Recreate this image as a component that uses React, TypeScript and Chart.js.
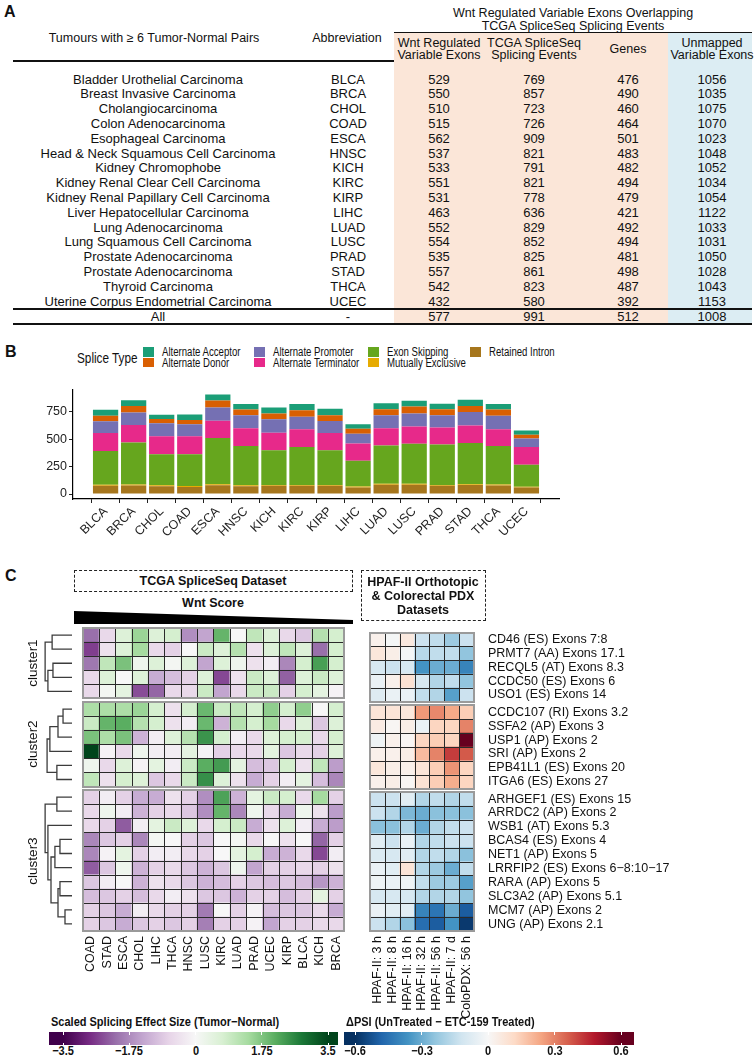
import React, { useEffect, useRef } from "react";
import { Chart, registerables } from "chart.js";
Chart.register(...registerables);

const SANS = "'Liberation Sans', Arial, sans-serif";

// ---------------- Panel A data ----------------
const tumourNames = [
  "Bladder Urothelial Carcinoma", "Breast Invasive Carcinoma", "Cholangiocarcinoma", "Colon Adenocarcinoma",
  "Esophageal Carcinoma", "Head & Neck Squamous Cell Carcinoma", "Kidney Chromophobe", "Kidney Renal Clear Cell Carcinoma",
  "Kidney Renal Papillary Cell Carcinoma", "Liver Hepatocellular Carcinoma", "Lung Adenocarcinoma", "Lung Squamous Cell Carcinoma",
  "Prostate Adenocarcinoma", "Prostate Adenocarcinoma", "Thyroid Carcinoma", "Uterine Corpus Endometrial Carcinoma",
];
const abbreviations = ["BLCA", "BRCA", "CHOL", "COAD", "ESCA", "HNSC", "KICH", "KIRC", "KIRP", "LIHC", "LUAD", "LUSC", "PRAD", "STAD", "THCA", "UCEC"];
const wntExons = [529, 550, 510, 515, 562, 537, 533, 551, 531, 463, 552, 554, 535, 557, 542, 432];
const tcgaEvents = [769, 857, 723, 726, 909, 821, 791, 821, 778, 636, 829, 852, 825, 861, 823, 580];
const geneCounts = [476, 490, 460, 464, 501, 483, 482, 494, 479, 421, 492, 494, 481, 498, 487, 392];
const unmappedExons = [1056, 1035, 1075, 1070, 1023, 1048, 1052, 1034, 1054, 1122, 1033, 1031, 1050, 1028, 1043, 1153];
const allRow = ["All", "-", "577", "991", "512", "1008"];

// ---------------- Panel B data ----------------
const spliceTypes = ["Alternate Acceptor", "Alternate Donor", "Alternate Promoter", "Alternate Terminator", "Exon Skipping", "Mutually Exclusive", "Retained Intron"];
const spliceColors = ["#1B9E77", "#D95F02", "#7570B3", "#E7298A", "#66A61E", "#E6AB02", "#A6761D"];
const altAcceptor = [54, 53, 38, 50, 55, 50, 56, 56, 58, 41, 55, 52, 51, 57, 52, 38];
const altDonor = [50, 60, 39, 39, 65, 51, 53, 60, 53, 44, 54, 65, 54, 54, 57, 36];
const altPromoter = [107, 113, 119, 110, 119, 119, 122, 113, 110, 90, 119, 119, 113, 125, 122, 77];
const altTerminator = [165, 161, 164, 164, 158, 163, 161, 163, 158, 157, 158, 158, 155, 158, 154, 161];
const exonSkipping = [308, 382, 283, 290, 422, 358, 316, 346, 316, 236, 350, 365, 369, 377, 352, 202];
const mutuallyExclusive = [10, 10, 8, 8, 10, 10, 8, 8, 8, 8, 8, 8, 8, 8, 8, 6];
const retainedIntron = [75, 78, 72, 65, 80, 70, 75, 75, 75, 60, 85, 85, 75, 82, 78, 60];
const spliceSeries = [altAcceptor, altDonor, altPromoter, altTerminator, exonSkipping, mutuallyExclusive, retainedIntron];
const barYTicks = [0, 250, 500, 750];

// ---------------- Panel C data ----------------
const tcgaCols = ["COAD", "STAD", "ESCA", "CHOL", "LIHC", "THCA", "HNSC", "LUSC", "KIRC", "LUAD", "PRAD", "UCEC", "KIRP", "BLCA", "KICH", "BRCA"];
const pdxCols = ["HPAF-II: 3 h", "HPAF-II: 8 h", "HPAF-II: 16 h", "HPAF-II: 32 h", "HPAF-II: 56 h", "HPAF-II: 7 d", "ColoPDX: 56 h"];
const exonLabels = [
  "CD46 (ES) Exons 7:8", "PRMT7 (AA) Exons 17.1", "RECQL5 (AT) Exons 8.3", "CCDC50 (ES) Exons 6", "USO1 (ES) Exons 14",
  "CCDC107 (RI) Exons 3.2", "SSFA2 (AP) Exons 3", "USP1 (AP) Exons 2", "SRI (AP) Exons 2", "EPB41L1 (ES) Exons 20", "ITGA6 (ES) Exons 27",
  "ARHGEF1 (ES) Exons 15", "ARRDC2 (AP) Exons 2", "WSB1 (AT) Exons 5.3", "BCAS4 (ES) Exons 4", "NET1 (AP) Exons 5",
  "LRRFIP2 (ES) Exons 6\u22128:10\u221217", "RARA (AP) Exons 5", "SLC3A2 (AP) Exons 5.1", "MCM7 (AP) Exons 2", "UNG (AP) Exons 2.1",
];
const exonCluster = [0, 0, 0, 0, 0, 1, 1, 1, 1, 1, 1, 2, 2, 2, 2, 2, 2, 2, 2, 2, 2];
const clusterNames = ["cluster1", "cluster2", "cluster3"];
const tcgaEffect = [
  [-2.1, -0.6, 0.6, 1.5, 0.6, 0.75, -1.7, -1.4, 2.0, 0, 1.05, 0.6, -0.6, -0.9, 1.2, 0.75],
  [-2.6, -0.45, 0.6, 1.4, -0.6, -0.75, 0, 0.9, 0.6, 1.2, -0.45, 0.6, 1.05, 0.6, -2.1, 0.75],
  [-2.0, 1.05, 1.8, 0.2, 0.6, 0.1, 0.6, -1.4, 0.6, 0.2, -0.45, -0.2, -1.8, 0.75, 2.3, 0.75],
  [-0.6, 0.6, 0, 0.6, -1.3, -1.05, -0.75, 0.6, -2.5, -0.45, 0.9, 0.6, -2.25, 0.6, 0.9, 0.6],
  [-0.6, 0.1, 0.45, -2.45, -2.2, -0.6, -0.6, 0.9, -1.4, -0.6, 0.9, 0.9, -0.75, 0.75, 0.45, -0.1],
  [1.3, 1.3, 1.3, 1.5, 0.75, -0.45, 0.75, 1.95, 0.9, 1.05, 0.75, 1.6, 0.75, 1.6, 0, 0.75],
  [0.9, 2.0, 2.1, 1.2, 0.75, -0.45, -0.2, 1.95, -1.2, 1.2, 0.75, 1.4, -0.6, 0.6, -0.9, 0.6],
  [1.8, 1.3, 1.8, -1.2, -0.2, 0.6, 1.2, 2.45, 0.75, -0.2, -0.6, 0.6, 0.75, 0.75, -0.6, 0.75],
  [3.5, -0.1, -0.6, 0.2, -0.2, -0.2, 0.45, -0.1, -0.75, -0.6, -0.6, 0.45, -0.9, -0.6, -0.75, 0.6],
  [0.2, -0.6, 0.6, -0.1, 0.45, -0.2, 0.9, 2.1, 2.35, 0.45, -1.05, -0.9, 0.75, -0.45, 1.05, -1.5],
  [1.05, -0.45, 0.75, 0.6, -0.9, -0.6, 0.9, 2.5, 0.6, -0.45, -1.3, -0.75, -0.2, 0.45, -1.05, -1.8],
  [-0.75, -0.2, -0.75, -1.3, -1.3, -0.45, -0.75, -1.7, 2.25, -1.2, 0.45, 0.9, 0.75, -0.6, 1.4, -0.75],
  [-0.6, 0.2, -0.2, -1.2, -0.75, -0.6, -0.9, -1.7, 2.0, -1.8, 0.2, -0.6, -1.3, 0.2, -0.45, -1.5],
  [-0.6, -0.75, -2.3, -0.2, 0.45, 0.9, 0.6, -0.6, 0.75, 0.9, -1.3, -0.45, 0.6, -0.2, -1.3, -1.5],
  [-1.8, -0.9, -0.75, -1.8, 0.1, 0, -0.75, -0.9, 0, 0.1, -0.6, 0, -0.45, 0, -2.2, -0.75],
  [-1.8, -0.1, 0.45, -0.75, -0.2, -0.2, -0.6, -0.75, 0, 0.45, 0.75, -1.3, -1.2, -0.6, -2.5, -0.2],
  [-2.3, -0.9, 0.2, -1.2, -0.75, -0.6, -0.9, -1.2, -0.9, 0.2, -1.4, -0.75, -0.75, -0.6, -0.75, -0.45],
  [-0.9, -0.2, 0, -1.2, -0.45, -0.6, -0.9, -1.2, -1.05, -0.75, -0.9, -1.05, -0.9, -1.05, -1.6, -1.2],
  [-1.05, -0.9, -0.75, -1.05, -0.6, -0.2, -0.45, -0.9, -0.9, -1.2, -0.75, -0.75, -1.05, -0.75, 0.45, -0.75],
  [-0.75, -0.9, -1.3, -0.2, -0.6, -0.75, -0.75, -1.95, 0, -0.75, -0.1, -1.05, -0.9, -0.9, -0.6, -1.3],
  [-0.75, -0.9, -1.3, -0.9, -0.75, -0.9, -0.75, -1.9, -0.75, -0.75, -0.1, -1.4, -0.75, -0.75, -0.6, -0.6],
];
const pdxDeltaPsi = [
  [0.03, -0.01, 0.06, -0.13, -0.15, -0.22, -0.13],
  [0.07, 0.04, -0.01, -0.17, -0.15, -0.15, -0.24],
  [-0.1, -0.13, -0.1, -0.36, -0.3, -0.3, -0.4],
  [-0.04, 0.03, 0.09, -0.1, -0.18, -0.15, -0.24],
  [-0.08, -0.04, -0.04, -0.15, -0.18, -0.33, -0.13],
  [0.08, 0.08, 0.07, 0.26, 0.29, 0.23, 0.15],
  [0.05, 0.01, 0.04, -0.04, 0.13, 0.13, 0.3],
  [-0.03, 0.03, 0.01, 0.13, 0.15, 0.13, 0.6],
  [0.03, 0.03, 0.04, 0.19, 0.3, 0.42, 0.37],
  [0.07, 0.04, 0.03, 0.08, 0.15, 0.27, 0.13],
  [0.03, 0.04, 0.01, 0.09, 0.15, 0.22, 0.13],
  [-0.13, -0.13, -0.07, -0.18, -0.15, -0.18, -0.15],
  [-0.13, -0.18, -0.27, -0.3, -0.25, -0.25, -0.25],
  [-0.25, -0.25, -0.18, -0.3, -0.18, -0.15, -0.13],
  [-0.07, -0.13, -0.04, -0.18, -0.15, -0.13, -0.13],
  [-0.09, -0.1, -0.07, -0.18, -0.15, -0.18, -0.25],
  [-0.04, -0.07, 0.08, -0.18, -0.22, -0.3, -0.15],
  [-0.03, -0.04, -0.03, -0.15, -0.22, -0.22, -0.33],
  [-0.1, -0.1, -0.1, -0.18, -0.18, -0.18, -0.24],
  [-0.04, -0.07, -0.07, -0.4, -0.44, -0.3, -0.5],
  [-0.13, -0.18, -0.25, -0.46, -0.5, -0.36, -0.58],
];
// dendrogram merges: [childA, childB, height]; child >= 100 refers to merge (child - 100)
const dendroMerges: [number, number, number][] = [
  [0, 1, 0.71], [2, 3, 0.68], [101, 4, 0.86], [100, 102, 0.96],
  [5, 6, 0.32], [104, 7, 0.5], [105, 8, 0.79], [9, 10, 0.54], [106, 107, 0.89],
  [11, 12, 0.54], [14, 15, 0.43], [110, 16, 0.61], [17, 18, 0.43], [19, 20, 0.25],
  [112, 113, 0.5], [111, 114, 0.75], [13, 115, 0.86], [109, 116, 0.96],
];
const effectTicks = [-3.5, -1.75, 0, 1.75, 3.5];
const psiTicks = [-0.6, -0.3, 0, 0.3, 0.6];
const PRGN = ["#40004b", "#762a83", "#9970ab", "#c2a5cf", "#e7d4e8", "#f7f7f7", "#d9f0d3", "#a6dba0", "#5aae61", "#1b7837", "#00441b"];
const RDBU = ["#053061", "#2166ac", "#4393c3", "#92c5de", "#d1e5f0", "#f7f7f7", "#fddbc7", "#f4a582", "#d6604d", "#b2182b", "#67001f"];

// ---------------- helpers ----------------
const CLUSTER_GAP = 0.25;
const rowPos = (i: number) => i + exonCluster[i] * CLUSTER_GAP;
const ROW_MAX = exonLabels.length + (clusterNames.length - 1) * CLUSTER_GAP;

function hexRgb(h: string) {
  return [parseInt(h.slice(1, 3), 16), parseInt(h.slice(3, 5), 16), parseInt(h.slice(5, 7), 16)];
}
function rampColor(pal: string[], v: number, lim: number) {
  const t = Math.max(0, Math.min(1, (v + lim) / (2 * lim))) * (pal.length - 1);
  const i = Math.min(pal.length - 2, Math.floor(t));
  const f = t - i;
  const a = hexRgb(pal[i]), b = hexRgb(pal[i + 1]);
  const c = a.map((x, k) => Math.round(x + (b[k] - x) * f));
  return `rgb(${c[0]},${c[1]},${c[2]})`;
}

function ChartBox({ left, top, width, height, makeConfig }: any) {
  const ref = useRef<HTMLCanvasElement>(null);
  useEffect(() => {
    const chart = new Chart(ref.current as HTMLCanvasElement, makeConfig());
    return () => chart.destroy();
  }, []);
  return (
    <div style={{ position: "absolute", left, top, width, height }}>
      <canvas ref={ref} width={width} height={height} style={{ width, height, display: "block" }} />
    </div>
  );
}

function T({ x, y, children, size = 13, bold = false, align = "center", rotate = 0, sx = 1, color = "#111" }: any) {
  const tx = align === "center" ? "-50%" : align === "right" ? "-100%" : "0";
  const origin = align === "left" ? "left center" : align === "right" ? "right center" : "center center";
  return (
    <div
      style={{
        position: "absolute", left: x, top: y, transform: `translate(${tx},-50%) rotate(${rotate}deg) scaleX(${sx})`,
        transformOrigin: origin,
        fontSize: size, fontWeight: bold ? 700 : 400, fontFamily: SANS, whiteSpace: "nowrap", lineHeight: 1, color,
      }}
    >
      {children}
    </div>
  );
}

// ---------------- Chart configs ----------------
const stackOrder = [6, 5, 4, 3, 2, 1, 0];
function barConfig(): any {
  return {
    type: "bar",
    data: {
      datasets: stackOrder.map((k) => ({
        label: spliceTypes[k],
        data: spliceSeries[k].map((v, i) => ({ x: i, y: v })),
        backgroundColor: spliceColors[k],
        borderWidth: 0,
        barPercentage: 0.9,
        categoryPercentage: 1,
      })),
    },
    options: {
      animation: false,
      responsive: false,
      layout: { padding: { top: 7, right: 16, left: 0, bottom: 0 } },
      plugins: { legend: { display: false }, tooltip: { enabled: false } },
      scales: {
        x: {
          type: "linear", min: -0.62, max: 15.62, stacked: true,
          afterBuildTicks: (s: any) => { s.ticks = abbreviations.map((_, i) => ({ value: i })); },
          afterFit: (s: any) => { s.height = 46; },
          ticks: {
            autoSkip: false, maxRotation: 45, minRotation: 45, padding: 1,
            callback: (_v: any, i: number) => abbreviations[i],
            font: { family: SANS, size: 12.5 }, color: "#222",
          },
          grid: { display: true, drawOnChartArea: false, tickLength: 4, color: "#222" },
          border: { display: true, color: "#000", width: 1.2 },
        },
        y: {
          type: "linear", min: -45.45, max: 954.45, stacked: true,
          afterBuildTicks: (s: any) => { s.ticks = barYTicks.map((v) => ({ value: v })); },
          afterFit: (s: any) => { s.width = 73; },
          ticks: { callback: (v: any) => String(v), font: { family: SANS, size: 12.5 }, color: "#222", padding: 2 },
          grid: { display: true, drawOnChartArea: false, tickLength: 4, color: "#222" },
          border: { display: true, color: "#000", width: 1.2 },
        },
      },
    },
  };
}

function gridPlugin(ncol: number) {
  return {
    id: "cellgrid",
    afterDatasetsDraw(chart: any) {
      const { ctx } = chart;
      const { x, y } = chart.scales;
      ctx.save();
      const left = Math.round(x.getPixelForValue(-0.5));
      const right = Math.round(x.getPixelForValue(ncol - 0.5));
      for (let c = 0; c < clusterNames.length; c++) {
        const rows = exonCluster.map((cl, i) => (cl === c ? i : -1)).filter((i) => i >= 0);
        const top = Math.round(y.getPixelForValue(rowPos(rows[0])));
        const bottom = Math.round(y.getPixelForValue(rowPos(rows[rows.length - 1]) + 1));
        ctx.strokeStyle = "#2a2a2a";
        ctx.lineWidth = 1;
        ctx.beginPath();
        for (let k = 1; k < rows.length; k++) {
          const yy = Math.round(y.getPixelForValue(rowPos(rows[k]))) + 0.5;
          ctx.moveTo(left, yy); ctx.lineTo(right, yy);
        }
        for (let k = 1; k < ncol; k++) {
          const xx = Math.round(x.getPixelForValue(k - 0.5)) + 0.5;
          ctx.moveTo(xx, top); ctx.lineTo(xx, bottom);
        }
        ctx.stroke();
        ctx.strokeStyle = "#9a9a9a";
        ctx.lineWidth = 2;
        ctx.strokeRect(left, top, right - left, bottom - top);
      }
      ctx.restore();
    },
  };
}

const dendroPlugin = {
  id: "dendro",
  afterDraw(chart: any) {
    const { ctx } = chart;
    const y = chart.scales.y;
    const leafX = chart.chartArea.left - 2;
    const unit = 28;
    const pos: { x: number; y: number }[] = [];
    const node = (n: number) => (n >= 100 ? pos[n - 100] : { x: leafX, y: y.getPixelForValue(rowPos(n) + 0.5) });
    ctx.save();
    ctx.strokeStyle = "#3c3c3c";
    ctx.lineWidth = 1.3;
    dendroMerges.forEach(([a, b, h], k) => {
      const A = node(a), B = node(b);
      const xx = leafX - h * unit;
      ctx.beginPath();
      ctx.moveTo(A.x, A.y); ctx.lineTo(xx, A.y); ctx.lineTo(xx, B.y); ctx.lineTo(B.x, B.y);
      ctx.stroke();
      pos[k] = { x: xx, y: (A.y + B.y) / 2 };
    });
    ctx.restore();
  },
};

function heatConfig(values: number[][], cols: string[], pal: string[], lim: number, side: "left" | "right", xAxisH: number): any {
  const cells: any[] = [];
  const colors: string[] = [];
  values.forEach((row, r) => row.forEach((v, c) => {
    cells.push({ x: c, y: [rowPos(r), rowPos(r) + 1] });
    colors.push(rampColor(pal, v, lim));
  }));
  const isRight = side === "right";
  const yScale: any = {
    type: "linear", reverse: true, min: 0, max: ROW_MAX,
    display: isRight,
    position: "right",
    grid: { display: false, drawTicks: false },
    border: { display: false },
  };
  if (isRight) {
    yScale.afterBuildTicks = (s: any) => { s.ticks = exonLabels.map((_, i) => ({ value: rowPos(i) + 0.5 })); };
    yScale.afterFit = (s: any) => { s.width = 273; };
    yScale.ticks = {
      autoSkip: false, padding: 5,
      callback: (_v: any, i: number) => exonLabels[i],
      font: { family: SANS, size: 12.5 }, color: "#111",
    };
  }
  return {
    type: "bar",
    data: { datasets: [{ data: cells, backgroundColor: colors, borderWidth: 0, barPercentage: 1, categoryPercentage: 1 }] },
    options: {
      animation: false,
      responsive: false,
      layout: { padding: isRight ? { top: 8, left: 5, right: 0, bottom: 0 } : { top: 8, left: 74, right: 7, bottom: 0 } },
      plugins: { legend: { display: false }, tooltip: { enabled: false } },
      scales: {
        x: {
          type: "linear", min: -0.5, max: cols.length - 0.5,
          afterBuildTicks: (s: any) => { s.ticks = cols.map((_, i) => ({ value: i })); },
          afterFit: (s: any) => { s.height = xAxisH; },
          ticks: {
            autoSkip: false, maxRotation: 90, minRotation: 90, padding: 5,
            callback: (_v: any, i: number) => cols[i],
            font: { family: SANS, size: 12.5 }, color: "#111",
          },
          grid: { display: false, drawTicks: false },
          border: { display: false },
        },
        y: yScale,
      },
    },
    plugins: isRight ? [gridPlugin(cols.length)] : [gridPlugin(cols.length), dendroPlugin],
  };
}

function gradientCss(pal: string[], lim: number, barLeft: number, barWidth: number, tickLeft: number, tickRight: number) {
  const stops = pal.map((c, k) => {
    const v = -lim + (2 * lim * k) / (pal.length - 1);
    const px = tickLeft + ((v + lim) / (2 * lim)) * (tickRight - tickLeft) - barLeft;
    return `${c} ${((px / barWidth) * 100).toFixed(2)}%`;
  });
  return `linear-gradient(to right, ${stops.join(", ")})`;
}

function ColorBar({ left, width, tickLeft, tickRight, pal, ticks, lim, title }: any) {
  const top = 1032, h = 13;
  const tx = (v: number) => tickLeft + ((v + lim) / (2 * lim)) * (tickRight - tickLeft);
  return (
    <>
      <T x={left + 2} y={1022} align="left" bold size={12.5} sx={0.88}>{title}</T>
      <div style={{ position: "absolute", left, top, width, height: h, background: gradientCss(pal, lim, left, width, tickLeft, tickRight) }} />
      {ticks.map((v: number) => (
        <React.Fragment key={v}>
          <div style={{ position: "absolute", left: tx(v) - 0.5, top, width: 1, height: 2.5, background: "#fff" }} />
          <div style={{ position: "absolute", left: tx(v) - 0.5, top: top + h - 2.5, width: 1, height: 2.5, background: "#fff" }} />
          <T x={tx(v)} y={1051} bold size={12.5} sx={0.88}>{v < 0 ? "\u2212" + Math.abs(v) : String(v)}</T>
        </React.Fragment>
      ))}
    </>
  );
}

export default function App() {
  const rowY = (i: number) => 78.5 + i * 14.8;
  const colX = [158, 348, 439, 534, 628, 712];
  const legendCols = [
    { box: 143, items: [0, 1] },
    { box: 254, items: [2, 3] },
    { box: 368, items: [4, 5] },
    { box: 470, items: [6] },
  ];
  const clusterRows = clusterNames.map((_, c) => exonCluster.map((cl, i) => (cl === c ? i : -1)).filter((i) => i >= 0));
  const rowPx = (v: number) => 628 + (v / ROW_MAX) * 303;
  return (
    <div style={{ position: "absolute", left: 0, top: 0, width: 756, height: 1057, background: "#fff", overflow: "hidden", color: "#111", fontFamily: SANS }}>
      {/* ---------- Panel A ---------- */}
      <div style={{ position: "absolute", left: 394, top: 33, width: 274, height: 290, background: "#FBE6D8" }} />
      <div style={{ position: "absolute", left: 668, top: 33, width: 84, height: 290, background: "#DCEDF3" }} />
      <div style={{ position: "absolute", left: 394, top: 32, width: 358, height: 1, background: "#111" }} />
      <div style={{ position: "absolute", left: 13, top: 60, width: 381, height: 2, background: "#111" }} />
      <div style={{ position: "absolute", left: 13, top: 308, width: 739, height: 1.5, background: "#111" }} />
      <div style={{ position: "absolute", left: 13, top: 322.5, width: 739, height: 2.5, background: "#111" }} />
      <T x={4} y={12} align="left" bold size={16}>A</T>
      <T x={154} y={38} size={12.5}>Tumours with ≥ 6 Tumor-Normal Pairs</T>
      <T x={347} y={38} size={12.5}>Abbreviation</T>
      <T x={573} y={13} size={12.5}>Wnt Regulated Variable Exons Overlapping</T>
      <T x={573} y={25.5} size={12.5}>TCGA SpliceSeq Splicing Events</T>
      <T x={colX[2]} y={43} size={12.5}>Wnt Regulated</T>
      <T x={colX[2]} y={55} size={12.5}>Variable Exons</T>
      <T x={colX[3]} y={43} size={12.5}>TCGA SpliceSeq</T>
      <T x={colX[3]} y={55} size={12.5}>Splicing Events</T>
      <T x={colX[4]} y={49} size={12.5}>Genes</T>
      <T x={colX[5]} y={43} size={12.5}>Unmapped</T>
      <T x={colX[5]} y={55} size={12.5}>Variable Exons</T>
      {tumourNames.map((n, i) => (
        <React.Fragment key={i}>
          <T x={colX[0]} y={rowY(i)}>{n}</T>
          <T x={colX[1]} y={rowY(i)}>{abbreviations[i]}</T>
          <T x={colX[2]} y={rowY(i)}>{wntExons[i]}</T>
          <T x={colX[3]} y={rowY(i)}>{tcgaEvents[i]}</T>
          <T x={colX[4]} y={rowY(i)}>{geneCounts[i]}</T>
          <T x={colX[5]} y={rowY(i)}>{unmappedExons[i]}</T>
        </React.Fragment>
      ))}
      {allRow.map((v, k) => (
        <T key={k} x={colX[k]} y={316}>{v}</T>
      ))}

      {/* ---------- Panel B ---------- */}
      <T x={5} y={352} align="left" bold size={16}>B</T>
      <T x={77} y={358} align="left" size={14} sx={0.84}>Splice Type</T>
      {legendCols.map((col, ci) => col.items.map((k, r) => (
        <React.Fragment key={`${ci}-${r}`}>
          <div style={{ position: "absolute", left: col.box, top: 347 + r * 10.5, width: 11, height: 9.5, background: spliceColors[k] }} />
          <T x={col.box + 19} y={352 + r * 10.5} align="left" size={12} sx={0.8}>{spliceTypes[k]}</T>
        </React.Fragment>
      )))}
      <ChartBox left={0} top={380} width={575} height={165} makeConfig={barConfig} />

      {/* ---------- Panel C ---------- */}
      <T x={5} y={576} align="left" bold size={16}>C</T>
      <div style={{ position: "absolute", left: 74, top: 570, width: 279, height: 22, border: "1.5px dashed #222", boxSizing: "border-box" }} />
      <T x={213} y={581} bold size={12.5}>TCGA SpliceSeq Dataset</T>
      <T x={213} y={603} bold size={12.5}>Wnt Score</T>
      <svg style={{ position: "absolute", left: 0, top: 0 }} width={756} height={640}>
        <polygon points="74,611 353,620 353,624 74,624" fill="#000" />
      </svg>
      <div style={{ position: "absolute", left: 361, top: 570, width: 125, height: 51, border: "1.5px dashed #222", boxSizing: "border-box" }} />
      <T x={423} y={582} bold size={12.5}>HPAF-II Orthotopic</T>
      <T x={423} y={596} bold size={12.5}>&amp; Colorectal PDX</T>
      <T x={423} y={610} bold size={12.5}>Datasets</T>
      <ChartBox left={0} top={620} width={360} height={370}
        makeConfig={() => heatConfig(tcgaEffect, tcgaCols, PRGN, 3.5, "left", 59)} />
      <ChartBox left={356} top={620} width={400} height={420}
        makeConfig={() => heatConfig(pdxDeltaPsi, pdxCols, RDBU, 0.6, "right", 109)} />
      {clusterRows.map((rows, c) => (
        <T key={c} x={33} y={rowPx((rowPos(rows[0]) + rowPos(rows[rows.length - 1]) + 1) / 2)} rotate={-90} size={13.5}>
          {clusterNames[c]}
        </T>
      ))}
      <ColorBar left={49} width={289} tickLeft={63} tickRight={328} pal={PRGN} ticks={effectTicks} lim={3.5}
        title={"Scaled Splicing Effect Size (Tumor\u2212Normal)"} />
      <ColorBar left={344} width={290} tickLeft={355} tickRight={621} pal={RDBU} ticks={psiTicks} lim={0.6}
        title={"\u0394PSI (UnTreated \u2212 ETC-159 Treated)"} />
    </div>
  );
}
